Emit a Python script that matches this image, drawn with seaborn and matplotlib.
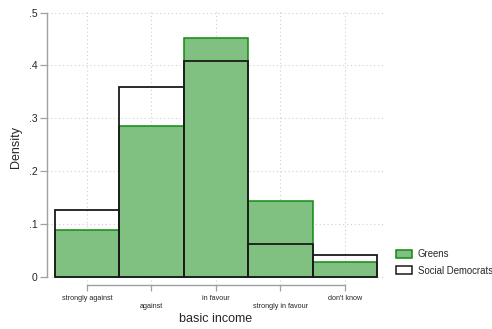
import matplotlib
matplotlib.use("Agg")
import matplotlib.pyplot as plt
import seaborn as sns
import pandas as pd
from matplotlib.patches import Patch

# Response categories for the basic income question
categories = ["strongly against", "against", "in favour", "strongly in favour", "don't know"]
# Density of each response, by party
greens = [0.088, 0.285, 0.452, 0.143, 0.029]
social_democrats = [0.126, 0.359, 0.408, 0.062, 0.042]
y_ticks = [0, 0.1, 0.2, 0.3, 0.4, 0.5]
y_tick_labels = ["0", ".1", ".2", ".3", ".4", ".5"]

sns.set_theme(style="white")
plt.rcParams["font.family"] = ["Liberation Sans", "DejaVu Sans"]

df = pd.DataFrame({"response": categories, "Greens": greens,
                   "Social Democrats": social_democrats})

fig = plt.figure(figsize=(4.92, 3.29), dpi=100)
ax = fig.add_axes([0.0955, 0.1337, 0.687, 0.836])

grid_kw = dict(color="#cfcfcf", linestyle=(0, (1, 2.5)), linewidth=0.8, zorder=0)
for yv in y_ticks:
    ax.axhline(yv, **grid_kw)
for xv in range(len(categories)):
    ax.axvline(xv, **grid_kw)

green_fill = "#80c080"
green_edge = "#128a12"
sns.barplot(data=df, x="response", y="Greens", order=categories, width=1.0,
            color=green_fill, edgecolor=green_edge, linewidth=1.1,
            saturation=1, ax=ax, zorder=2)
sns.barplot(data=df, x="response", y="Social Democrats", order=categories, width=1.0,
            color="#1a1a1a", fill=False, linewidth=1.3, ax=ax, zorder=3)

ax.set_xlim(-0.62, 4.62)
ax.set_ylim(-0.0152, 0.505)

for side in ["top", "right"]:
    ax.spines[side].set_visible(False)
for side in ["left", "bottom"]:
    ax.spines[side].set_color("#a0a0a0")
    ax.spines[side].set_linewidth(1.0)
ax.spines["left"].set_bounds(0, 0.5)
ax.spines["bottom"].set_bounds(0, 4)

ax.set_yticks(y_ticks)
ax.set_yticklabels(y_tick_labels, fontsize=7.5)
ax.set_xticks(range(len(categories)))
ax.set_xticklabels([c if i % 2 == 0 else "\n" + c for i, c in enumerate(categories)],
                   fontsize=5.2, linespacing=1.35)
ax.tick_params(axis="y", direction="out", length=5, width=0.9, color="#a0a0a0",
               pad=2, left=True)
ax.tick_params(axis="x", direction="out", length=4, width=0.9, color="#a0a0a0",
               pad=3, bottom=True)

ax.set_xlabel("basic income", fontsize=9, labelpad=2)
ax.set_ylabel("Density", fontsize=9, labelpad=5)

handles = [Patch(facecolor=green_fill, edgecolor=green_edge, linewidth=1.1, label="Greens"),
           Patch(facecolor="white", edgecolor="#1a1a1a", linewidth=1.1, label="Social Democrats")]
fig.legend(handles=handles, loc="upper left", bbox_to_anchor=(0.797, 0.255),
           frameon=False, fontsize=6.9, handlelength=1.7, handleheight=0.9,
           handletextpad=0.55, labelspacing=0.7, borderaxespad=0)

fig.savefig("out.png", dpi=100, facecolor="white")
